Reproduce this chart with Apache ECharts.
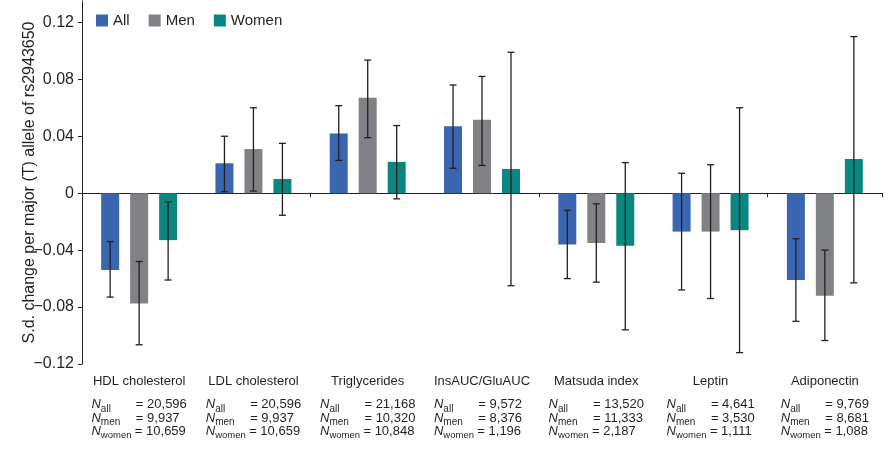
<!DOCTYPE html>
<html>
<head>
<meta charset="utf-8">
<script src="https://cdn.jsdelivr.net/npm/echarts@6/dist/echarts.min.js"></script>
<style>
html,body{margin:0;padding:0;background:#fff;}
#chart{width:888px;height:452px;}
</style>
</head>
<body>
<div id="chart"></div>
<script>
const categories = ['HDL cholesterol','LDL cholesterol','Triglycerides','InsAUC/GluAUC','Matsuda index','Leptin','Adiponectin'];
const nAll   = ['20,596','20,596','21,168','9,572','13,520','4,641','9,769'];
const nMen   = ['9,937','9,937','10,320','8,376','11,333','3,530','8,681'];
const nWomen = ['10,659','10,659','10,848','1,196','2,187','1,111','1,088'];

const allValues   = [-0.054, 0.021, 0.042, 0.047, -0.036, -0.027, -0.061];
const allLow      = [-0.073, 0.001, 0.023, 0.0175, -0.060, -0.068, -0.090];
const allHigh     = [-0.034, 0.040, 0.0615, 0.076, -0.012, 0.014, -0.032];

const menValues   = [-0.0775, 0.031, 0.067, 0.0515, -0.035, -0.027, -0.072];
const menLow      = [-0.1065, 0.0015, 0.039, 0.0195, -0.0625, -0.074, -0.1035];
const menHigh     = [-0.048, 0.060, 0.0935, 0.082, -0.0075, 0.020, -0.040];

const womenValues = [-0.033, 0.010, 0.022, 0.017, -0.037, -0.026, 0.024];
const womenLow    = [-0.061, -0.0155, -0.004, -0.065, -0.096, -0.112, -0.063];
const womenHigh   = [-0.006, 0.035, 0.0475, 0.099, 0.0215, 0.060, 0.110];

const yTicks = { min: -0.12, max: 0.135, interval: 0.04 };

const FONT = '"Liberation Sans", Arial, Helvetica, sans-serif';
const TXT = '#231f20';
const COLORS = ['#3a66b1', '#808285', '#0c8681'];
const BAR_W = 0.1575;   // fraction of category width
const BAR_GAP = 0.61;   // fraction of bar width
const STEP = BAR_W * (1 + BAR_GAP);

function errSeries(idx, low, high) {
  return {
    type: 'custom',
    name: 'err' + idx,
    xAxisIndex: 0,
    yAxisIndex: 0,
    z: 5,
    silent: true,
    data: low.map((l, i) => [i, l, high[i]]),
    encode: { x: 0, y: [1, 2] },
    renderItem: function (params, api) {
      const xi = api.value(0);
      const pLow = api.coord([xi, api.value(1)]);
      const pHigh = api.coord([xi, api.value(2)]);
      const catW = api.size([1, 0])[0];
      const x = pLow[0] + (idx - 1) * catW * STEP;
      const cap = 3.5;
      const st = { stroke: TXT, lineWidth: 1.3 };
      return {
        type: 'group',
        children: [
          { type: 'line', shape: { x1: x, y1: pLow[1], x2: x, y2: pHigh[1] }, style: st },
          { type: 'line', shape: { x1: x - cap, y1: pLow[1], x2: x + cap, y2: pLow[1] }, style: st },
          { type: 'line', shape: { x1: x - cap, y1: pHigh[1], x2: x + cap, y2: pHigh[1] }, style: st }
        ]
      };
    }
  };
}

function barSeries(name, values, color) {
  return {
    type: 'bar',
    name: name,
    xAxisIndex: 0,
    yAxisIndex: 0,
    data: values,
    barWidth: (BAR_W * 100) + '%',
    barGap: (BAR_GAP * 100) + '%',
    itemStyle: { color: color },
    z: 2
  };
}

const labelText = categories.map((c, i) =>
  '{cat|' + c + '}\n{sp| }\n' +
  '{n|N}{sa|all}{v|= ' + nAll[i] + '}\n' +
  '{n|N}{sa|men}{v|= ' + nMen[i] + '}\n' +
  '{n|N}{sw|women}{v|= ' + nWomen[i] + '}'
);

const chart = echarts.init(document.getElementById('chart'), null, { renderer: 'canvas' });
chart.setOption({
  animation: false,
  textStyle: { fontFamily: FONT, color: TXT },
  legend: {
    data: ['All', 'Men', 'Women'],
    left: 91,
    top: 8,
    icon: 'rect',
    itemWidth: 12,
    itemHeight: 12,
    itemGap: 19,
    textStyle: { fontSize: 15, color: TXT, fontFamily: FONT }
  },
  grid: { left: 82, right: 6, top: 1, bottom: 88, containLabel: false },
  xAxis: [
    {
      type: 'category',
      data: categories,
      position: 'bottom',
      axisLine: { onZero: true, lineStyle: { color: TXT, width: 1 } },
      axisTick: { show: true, length: 4, lineStyle: { color: TXT } },
      axisLabel: { show: false },
      splitLine: { show: false }
    },
    {
      type: 'category',
      data: labelText,
      position: 'bottom',
      axisLine: { show: false, onZero: false },
      axisTick: { show: false },
      splitLine: { show: false },
      axisLabel: {
        interval: 0,
        margin: 10,
        color: TXT,
        fontFamily: FONT,
        formatter: function (v) { return v; },
        rich: {
          cat: { fontSize: 13, lineHeight: 14, color: TXT, fontFamily: FONT },
          sp: { fontSize: 6, lineHeight: 10 },
          n: { fontSize: 13, fontStyle: 'italic', lineHeight: 13.5, align: 'left', color: TXT, fontFamily: FONT },
          sa: { fontSize: 10, lineHeight: 5.5, padding: [8, 0, 0, 0], width: 35, align: 'left', color: TXT, fontFamily: FONT },
          sw: { fontSize: 9.5, lineHeight: 5.5, padding: [8, 0, 0, 0], width: 34, align: 'left', color: TXT, fontFamily: FONT },
          v: { fontSize: 13, lineHeight: 13.5, align: 'left', color: TXT, fontFamily: FONT }
        }
      }
    }
  ],
  yAxis: {
    type: 'value',
    min: yTicks.min,
    max: yTicks.max,
    interval: yTicks.interval,
    name: 'S.d. change per major (T) allele of rs2943650',
    nameLocation: 'middle',
    nameGap: 44,
    nameMoveOverlap: false,
    nameTextStyle: { fontSize: 16, color: TXT, fontFamily: FONT },
    axisLine: { show: true, lineStyle: { color: TXT, width: 1 } },
    axisTick: { show: true, length: 4, lineStyle: { color: TXT } },
    splitLine: { show: false },
    axisLabel: {
      fontSize: 16,
      color: TXT,
      margin: 8,
      showMaxLabel: false,
      formatter: function (v) {
        if (Math.abs(v) < 1e-9) return '0';
        if (Math.abs(v) > 0.125) return '';
        return (v < 0 ? '\u2212' : '') + Math.abs(v).toFixed(2);
      }
    }
  },
  series: [
    barSeries('All', allValues, COLORS[0]),
    barSeries('Men', menValues, COLORS[1]),
    barSeries('Women', womenValues, COLORS[2]),
    errSeries(0, allLow, allHigh),
    errSeries(1, menLow, menHigh),
    errSeries(2, womenLow, womenHigh)
  ]
});
</script>
</body>
</html>
